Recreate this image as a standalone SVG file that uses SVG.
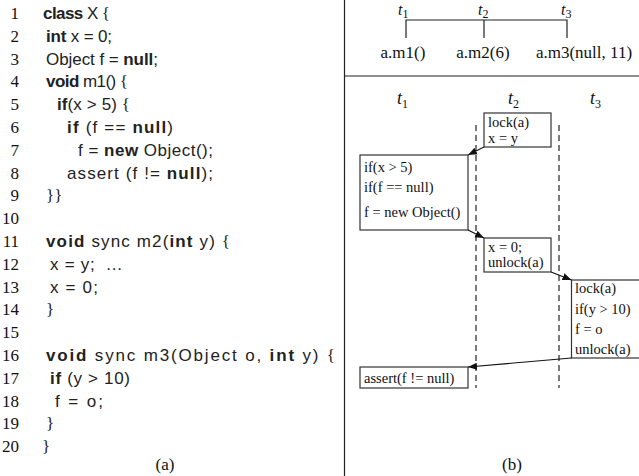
<svg xmlns="http://www.w3.org/2000/svg" width="639" height="476" viewBox="0 0 639 476">
<defs>
<style>
.num{font-family:"Liberation Serif",serif;font-size:17px;fill:#111;text-anchor:end}
.code{font-family:"Liberation Sans",Arial,sans-serif;font-size:17px;fill:#222;white-space:pre}
.b{font-weight:bold}
.br{font-family:"Liberation Serif",serif}
.lbl{font-family:"Liberation Serif",serif;font-size:17px;fill:#111}
.st{font-family:"Liberation Serif",serif;font-size:14.5px;fill:#111}
.ti{font-family:"Liberation Serif",serif;font-size:18px;font-style:italic;fill:#111}
.tt{font-size:16px}
.sub{font-size:12px;font-style:normal}
.box{fill:#fff;stroke:#333;stroke-width:1.2}
.ln{stroke:#222;stroke-width:1.2;fill:none}
.dash{stroke:#222;stroke-width:1.2;stroke-dasharray:6 4;fill:none}
.arr{stroke:#111;stroke-width:1.1;fill:none;marker-end:url(#ah)}
</style>
<marker id="ah" viewBox="0 0 10 10" refX="10" refY="5" markerWidth="9" markerHeight="9" markerUnits="userSpaceOnUse" orient="auto">
<path d="M0,1 L10,5 L0,9 z" fill="#111"/>
</marker>
</defs>
<rect width="639" height="476" fill="#fff"/>

<g id="code">
<text class="num" x="19" y="19">1</text>
<text class="num" x="19" y="41.8">2</text>
<text class="num" x="19" y="64.6">3</text>
<text class="num" x="19" y="87.4">4</text>
<text class="num" x="19" y="110.2">5</text>
<text class="num" x="19" y="133">6</text>
<text class="num" x="19" y="155.8">7</text>
<text class="num" x="19" y="178.6">8</text>
<text class="num" x="19" y="201.4">9</text>
<text class="num" x="19" y="224.2">10</text>
<text class="num" x="19" y="247">11</text>
<text class="num" x="19" y="269.8">12</text>
<text class="num" x="19" y="292.6">13</text>
<text class="num" x="19" y="315.4">14</text>
<text class="num" x="19" y="338.2">15</text>
<text class="num" x="19" y="361">16</text>
<text class="num" x="19" y="383.8">17</text>
<text class="num" x="19" y="406.6">18</text>
<text class="num" x="19" y="429.4">19</text>
<text class="num" x="19" y="452.2">20</text>

<text class="code" x="43" y="19" textLength="67"><tspan class="b">class</tspan> X <tspan class="br">{</tspan></text>
<text class="code" x="46" y="41.8" textLength="66"><tspan class="b">int</tspan> x = 0;</text>
<text class="code" x="46" y="64.6" textLength="112">Object f = <tspan class="b">null</tspan>;</text>
<text class="code" x="46" y="87.4" textLength="82"><tspan class="b">void</tspan> m1() <tspan class="br">{</tspan></text>
<text class="code" x="57" y="110.2" textLength="73"><tspan class="b">if</tspan>(x &gt; 5) <tspan class="br">{</tspan></text>
<text class="code" x="67" y="133" textLength="106"><tspan class="b">if</tspan> (f == <tspan class="b">null</tspan>)</text>
<text class="code" x="78" y="155.8" textLength="135">f = <tspan class="b">new</tspan> Object();</text>
<text class="code" x="67" y="178.6" textLength="146">assert (f != <tspan class="b">null</tspan>);</text>
<text class="code br" x="46" y="201.4">}}</text>
<text class="code" x="46" y="247" textLength="184"><tspan class="b">void</tspan> sync m2(<tspan class="b">int</tspan> y) <tspan class="br">{</tspan></text>
<text class="code" x="50" y="269.8" textLength="72">x = y;  ...</text>
<text class="code" x="50" y="292.6" textLength="48">x = 0;</text>
<text class="code br" x="46" y="315.4">}</text>
<text class="code" x="46" y="361" textLength="289"><tspan class="b">void</tspan> sync m3(Object o, <tspan class="b">int</tspan> y) <tspan class="br">{</tspan></text>
<text class="code" x="50" y="383.8" textLength="80"><tspan class="b">if</tspan> (y &gt; 10)</text>
<text class="code" x="55" y="406.6" textLength="48">f = o;</text>
<text class="code br" x="46" y="429.4">}</text>
<text class="code br" x="42" y="452.2">}</text>
<text class="lbl" x="165" y="470" text-anchor="middle">(a)</text>
</g>

<line class="ln" x1="344.5" y1="0" x2="344.5" y2="476" stroke-width="1.5"/>

<g id="calls">
<text class="ti tt" x="398" y="15">t<tspan class="sub" dy="2.5" font-size="11">1</tspan></text>
<text class="ti tt" x="478" y="15">t<tspan class="sub" dy="2.5" font-size="11">2</tspan></text>
<text class="ti tt" x="561" y="15">t<tspan class="sub" dy="2.5" font-size="11">3</tspan></text>
<path class="ln" d="M406,38 V20 H567 V38 M484,20 V38"/>
<text class="lbl" x="403" y="58" text-anchor="middle">a.m1()</text>
<text class="lbl" x="483" y="58" text-anchor="middle">a.m2(6)</text>
<text class="lbl" x="584" y="58" text-anchor="middle">a.m3(null, 11)</text>
</g>

<line class="ln" x1="344.5" y1="76" x2="639" y2="76" stroke-width="1.5"/>

<g id="threads">
<text class="ti" x="397" y="104">t<tspan class="sub" dy="4">1</tspan></text>
<text class="ti" x="508" y="104">t<tspan class="sub" dy="4">2</tspan></text>
<text class="ti" x="590" y="104">t<tspan class="sub" dy="4">3</tspan></text>
<line class="dash" x1="476" y1="125" x2="476" y2="388"/>
<line class="dash" x1="559" y1="125" x2="559" y2="388"/>
</g>

<g id="n_t2a">
<rect class="box" x="484" y="113" width="67" height="34"/>
<text class="st" x="488" y="127">lock(a)</text>
<text class="st" x="488" y="143">x = y</text>
</g>
<g id="n_t1a">
<rect class="box" x="360" y="155" width="108" height="75"/>
<text class="st" x="364" y="172">if(x &gt; 5)</text>
<text class="st" x="364" y="192">if(f == null)</text>
<text class="st" x="364" y="217">f = new Object()</text>
</g>
<g id="n_t2b">
<rect class="box" x="484" y="238" width="67" height="34"/>
<text class="st" x="488" y="252">x = 0;</text>
<text class="st" x="488" y="267">unlock(a)</text>
</g>
<g id="n_t3">
<rect class="box" x="571.5" y="280" width="72" height="78"/>
<text class="st" x="575" y="293">lock(a)</text>
<text class="st" x="575" y="314">if(y &gt; 10)</text>
<text class="st" x="575" y="334">f = o</text>
<text class="st" x="575" y="354">unlock(a)</text>
</g>
<g id="n_t1b">
<rect class="box" x="360" y="367" width="108" height="21"/>
<text class="st" x="364" y="383">assert(f != null)</text>
</g>

<g id="connectors">
<line class="arr" x1="484" y1="147" x2="468" y2="155"/>
<line class="arr" x1="468" y1="230" x2="484" y2="238"/>
<line class="arr" x1="551" y1="272" x2="571.5" y2="280"/>
<line class="arr" x1="571.5" y1="358" x2="468" y2="367"/>
</g>

<text class="lbl" x="512" y="470" text-anchor="middle">(b)</text>
</svg>
